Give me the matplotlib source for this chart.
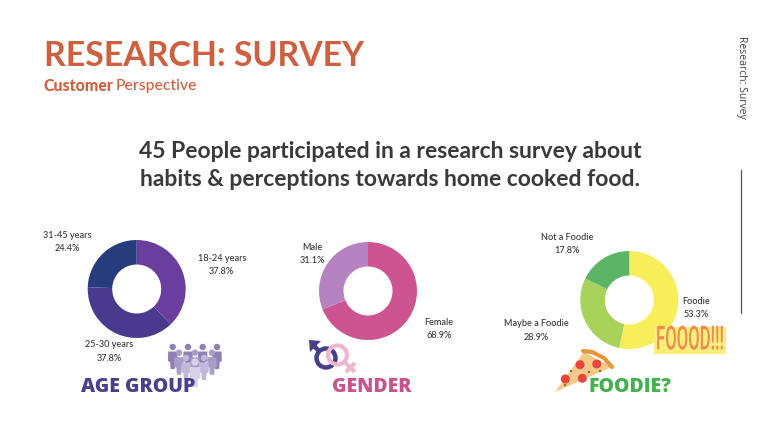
import matplotlib
matplotlib.use('Agg')
import matplotlib.pyplot as plt
from matplotlib import patheffects
from matplotlib.patches import Circle, Polygon, Rectangle
from matplotlib.transforms import Affine2D

W, H = 768, 432

# ---------------- datos de la encuesta ----------------
age_labels = ['18-24 years', '25-30 years', '31-45 years']
age_values = [37.8, 37.8, 24.4]
age_colors = ['#6A3E9C', '#4A3A8E', '#273C7D']

gender_labels = ['Female', 'Male']
gender_values = [68.9, 31.1]
gender_colors = ['#CC5490', '#B584C0']

foodie_labels = ['Foodie', 'Maybe a Foodie', 'Not a Foodie']
foodie_values = [53.3, 28.9, 17.8]
foodie_colors = ['#F8EE5A', '#A9D25A', '#5CB567']

ORANGE = '#CE5F3F'
DARK = '#3A3A3A'

fig = plt.figure(figsize=(W / 100, H / 100), dpi=100, facecolor='white')


def donut(cx, cy, values, colors, r=49):
    ax = fig.add_axes([(cx - r) / W, 1 - (cy + r) / H, 2 * r / W, 2 * r / H])
    ax.pie(values, colors=colors, startangle=90, counterclock=False,
           radius=1, wedgeprops=dict(width=0.5))
    ax.set_xlim(-1, 1)
    ax.set_ylim(-1, 1)


donut(136.7, 289, age_values, age_colors)
donut(368, 291, gender_values, gender_colors)
donut(629.3, 300, foodie_values, foodie_colors)

# capa superior en pixeles para textos e iconos
top = fig.add_axes([0, 0, 1, 1], facecolor='none')
top.set_xlim(0, W)
top.set_ylim(H, 0)
top.axis('off')

# ---------------- cabecera ----------------
top.text(44, 55.5, 'RESEARCH: SURVEY', color=ORANGE, fontsize=24.4, family='Lato',
         fontweight='bold', va='center', ha='left')
top.text(43, 86, 'Customer', color=ORANGE, fontsize=11.4, family='Lato',
         fontweight='black', va='center', ha='left')
top.text(116, 86, 'Perspective', color=ORANGE, fontsize=11.3, family='Lato',
         fontweight='medium', va='center', ha='left')
top.text(390, 152, '45 People participated in a research survey about', color=DARK,
         fontsize=16.5, family='Lato', fontweight='bold', va='center', ha='center')
top.text(390, 179, 'habits & perceptions towards home cooked food.', color=DARK,
         fontsize=16.5, family='Lato', fontweight='bold', va='center', ha='center')

top.text(741, 77.5, 'Research: Survey', color='#444444', fontsize=7.5, family='Open Sans',
         rotation=-90, va='center', ha='center')
top.plot([741, 741], [170, 313], color='#555555', lw=0.9)


# ---------------- etiquetas de los anillos ----------------
def pct_label(x, y, name, value):
    top.text(x, y, f'{name}\n{value}%', color='#333333', fontsize=6.6, family='Lato',
             fontweight='medium', ha='center', va='center', linespacing=1.6)


age_pos = [(221.7, 264.8), (109.3, 351.5), (67.3, 242)]
for (x, y), name, value in zip(age_pos, age_labels, age_values):
    pct_label(x, y, name, value)

gender_pos = [(439.3, 329.2), (312.3, 253.8)]
for (x, y), name, value in zip(gender_pos, gender_labels, gender_values):
    pct_label(x, y, name, value)

foodie_pos = [(696, 308.2), (536, 330.5), (566.7, 243.8)]
for (x, y), name, value in zip(foodie_pos, foodie_labels, foodie_values):
    pct_label(x, y, name, value)


# ---------------- icono de personas ----------------
def person(x, y, color, scale=1.0):
    top.add_patch(Circle((x, y), 3.2 * scale, fc=color, ec='none'))
    body = [[x - 4.5 * scale, y + 4.5 * scale], [x + 4.5 * scale, y + 4.5 * scale],
            [x + 4.8 * scale, y + 14 * scale], [x + 2.6 * scale, y + 15 * scale],
            [x + 2.2 * scale, y + 22 * scale], [x - 2.2 * scale, y + 22 * scale],
            [x - 2.6 * scale, y + 15 * scale], [x - 4.8 * scale, y + 14 * scale]]
    top.add_patch(Polygon(body, fc=color, ec='none', joinstyle='round'))


for x in [172.7, 188, 202.7, 217]:
    person(x, 347, '#8E7FB5')
for x in [179, 195, 212]:
    person(x, 352.7, '#A99CC9')
for x in [186, 204]:
    person(x, 358, '#C2B8DA')
person(195, 362, '#D8D2E8', 1.15)

top.text(138.5, 386.5, 'AGE GROUP', color='#4A3F8C', fontsize=14, family='Open Sans',
         fontweight='extra bold', ha='center', va='center')

# ---------------- simbolos de genero ----------------
MALE = '#46408C'
FEMALE = '#F0B8D0'
top.add_patch(Circle((326, 358), 9.5, fc='none', ec=MALE, lw=3.2))
top.plot([319, 312], [351, 344], color=MALE, lw=3.2, solid_capstyle='butt')
top.add_patch(Polygon([[309, 340], [321, 341], [310, 352]], fc=MALE, ec='none'))
top.add_patch(Circle((337.5, 355), 9.5, fc='none', ec=FEMALE, lw=3))
top.plot([344.5, 355], [362, 372], color=FEMALE, lw=3, solid_capstyle='butt')
top.plot([346, 355], [372, 363], color=FEMALE, lw=3, solid_capstyle='butt')

top.text(372, 386.5, 'GENDER', color='#C9538F', fontsize=14, family='Open Sans',
         fontweight='extra bold', ha='center', va='center')

# ---------------- porcion de pizza ----------------
top.add_patch(Polygon([[555, 392], [584, 352], [612, 367]], fc='#F5C98A', ec='none'))
top.plot([583, 592, 604, 612], [351, 352, 358, 367], color='#E8963A', lw=3,
         solid_capstyle='round')
for x, y in [(580, 364.7), (596.7, 364), (565.3, 379), (582.3, 378.3)]:
    top.add_patch(Circle((x, y), 4.5, fc='#E8453C', ec='none'))
for x, y in [(571, 371), (589, 372), (565, 385), (600, 371)]:
    top.add_patch(Circle((x, y), 1.2, fc='#9A5B34', ec='none'))

top.text(630.5, 386.5, 'FOODIE?', color='#45B050', fontsize=14, family='Open Sans',
         fontweight='extra bold', ha='center', va='center')


# ---------------- cartel FOOOD ----------------
# no hay fuente condensada instalada, asi que se estrecha el trazado del texto
class Squeeze(patheffects.AbstractPathEffect):
    def __init__(self, xc, sx):
        super().__init__()
        self.xc = xc
        self.sx = sx

    def draw_path(self, renderer, gc, tpath, affine, rgbFace=None):
        squeeze = Affine2D().translate(-self.xc, 0).scale(self.sx, 1).translate(self.xc, 0)
        renderer.draw_path(gc, tpath, affine + squeeze, rgbFace)


top.add_patch(Rectangle((654, 327), 72, 27, fc='#FBEF7A', ec='none'))
top.text(690, 340.5, 'FOOOD!!!', color='#EE8A52', fontsize=24, family='Roboto',
         fontweight='medium', ha='center', va='center', path_effects=[Squeeze(690, 0.5)])

fig.savefig('out.png', dpi=100)
